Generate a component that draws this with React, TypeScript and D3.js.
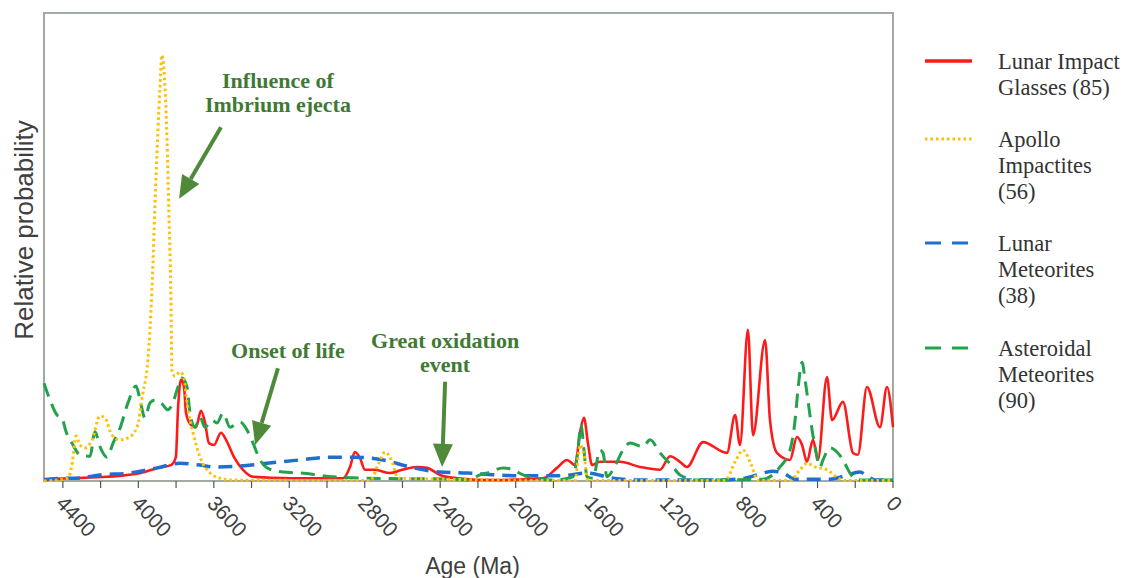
import React from 'react';
import * as d3 from 'd3';

// [age (Ma), relative probability]
const lunarGlasses: [number, number][] = [
  [4500, 0.004], [4346, 0.006], [4166, 0.009], [3987, 0.017], [3897, 0.028], [3827, 0.034],
  [3801, 0.051], [3790, 0.152], [3774, 0.216], [3758, 0.201], [3747, 0.145], [3721, 0.12],
  [3694, 0.115], [3668, 0.15], [3647, 0.126], [3626, 0.081], [3599, 0.077], [3562, 0.103],
  [3535, 0.088], [3493, 0.051], [3445, 0.024], [3392, 0.009], [3196, 0.006], [2915, 0.006],
  [2878, 0.03], [2852, 0.062], [2825, 0.049], [2799, 0.024], [2746, 0.024], [2666, 0.017],
  [2602, 0.024], [2523, 0.03], [2470, 0.028], [2401, 0.013], [2311, 0.006], [2120, 0.002],
  [1855, 0.006], [1781, 0.028], [1728, 0.045], [1685, 0.034], [1659, 0.103], [1638, 0.135],
  [1617, 0.081], [1595, 0.034], [1553, 0.041], [1447, 0.041], [1341, 0.03], [1235, 0.024],
  [1182, 0.053], [1129, 0.041], [1092, 0.03], [1007, 0.083], [880, 0.06], [837, 0.141],
  [811, 0.077], [769, 0.323], [742, 0.098], [678, 0.301], [652, 0.13], [615, 0.06],
  [546, 0.045], [509, 0.094], [482, 0.077], [456, 0.041], [424, 0.088], [398, 0.045],
  [350, 0.222], [323, 0.13], [265, 0.169], [212, 0.06], [186, 0.056], [138, 0.201],
  [69, 0.115], [32, 0.201], [0, 0.115],
];

const apolloImpactites: [number, number][] = [
  [4500, 0], [4373, 0.006], [4352, 0.034], [4330, 0.096], [4309, 0.077], [4283, 0.071],
  [4245, 0.088], [4203, 0.139], [4177, 0.135], [4140, 0.098], [4097, 0.088], [4055, 0.092],
  [4007, 0.115], [3976, 0.188], [3949, 0.259], [3928, 0.408], [3907, 0.643], [3886, 0.835],
  [3875, 0.91], [3864, 0.878], [3848, 0.729], [3838, 0.573], [3827, 0.387], [3822, 0.237],
  [3806, 0.224], [3779, 0.233], [3758, 0.22], [3742, 0.167], [3710, 0.103], [3673, 0.051],
  [3620, 0.017], [3567, 0.006], [3514, 0.002], [2772, 0.001], [2730, 0.034], [2692, 0.062],
  [2655, 0.041], [2624, 0.006], [1685, 0.001], [1659, 0.077], [1638, 0.056], [1617, 0.001],
  [890, 0.001], [837, 0.041], [795, 0.066], [753, 0.036], [716, 0.001], [546, 0.001],
  [493, 0.024], [456, 0.038], [413, 0.03], [350, 0.024], [281, 0.004], [254, 0.001], [0, 0.001],
];

const lunarMeteorites: [number, number][] = [
  [4500, 0.002], [4399, 0.006], [4325, 0.006], [4203, 0.013], [4044, 0.017], [3901, 0.028],
  [3779, 0.038], [3673, 0.034], [3594, 0.03], [3461, 0.032], [3318, 0.038], [3143, 0.045],
  [2984, 0.051], [2852, 0.051], [2703, 0.045], [2560, 0.03], [2401, 0.019], [2258, 0.017],
  [2099, 0.013], [1940, 0.011], [1765, 0.011], [1622, 0.017], [1484, 0.006], [1341, 0.002],
  [1166, 0.002], [917, 0.002], [784, 0.006], [689, 0.017], [636, 0.021], [583, 0.017],
  [519, 0.004], [334, 0.004], [254, 0.011], [175, 0.019], [138, 0.011], [95, 0.002], [0, 0.002],
];

const asteroidalMeteorites: [number, number][] = [
  [4500, 0.209], [4468, 0.173], [4431, 0.141], [4405, 0.135], [4383, 0.105], [4352, 0.081],
  [4309, 0.056], [4256, 0.053], [4230, 0.105], [4203, 0.073], [4166, 0.051], [4134, 0.081],
  [4097, 0.113], [4055, 0.167], [4012, 0.203], [3991, 0.173], [3965, 0.135], [3938, 0.167],
  [3912, 0.173], [3875, 0.165], [3843, 0.152], [3817, 0.167], [3790, 0.201], [3769, 0.22],
  [3742, 0.201], [3726, 0.145], [3700, 0.115], [3673, 0.137], [3647, 0.115], [3609, 0.13],
  [3583, 0.124], [3551, 0.145], [3514, 0.115], [3461, 0.126], [3424, 0.109], [3392, 0.081],
  [3355, 0.045], [3318, 0.028], [3233, 0.019], [3143, 0.017], [2968, 0.009], [2788, 0.006],
  [2348, 0.004], [2258, 0.002], [2189, 0.013], [2136, 0.019], [2067, 0.028], [2014, 0.024],
  [1961, 0.013], [1887, 0.006], [1802, 0.002], [1696, 0.009], [1670, 0.066], [1654, 0.12],
  [1638, 0.066], [1622, 0.009], [1590, 0.006], [1553, 0.066], [1537, 0.06], [1516, 0.009],
  [1484, 0.024], [1431, 0.066], [1394, 0.081], [1325, 0.073], [1288, 0.088], [1235, 0.06],
  [1166, 0.03], [1129, 0.013], [1039, 0.002], [689, 0.004], [599, 0.03], [546, 0.066],
  [519, 0.13], [504, 0.194], [482, 0.254], [466, 0.216], [451, 0.173], [429, 0.109],
  [413, 0.073], [387, 0.03], [371, 0.045], [334, 0.071], [297, 0.062], [265, 0.045],
  [228, 0.017], [191, 0.002], [0, 0.002],
];

const tickAges = d3.range(0, 4401, 200);
const labelAges = d3.range(0, 4401, 400);

const seriesNames = ['Lunar Impact Glasses (85)', 'Apollo Impactites (56)', 'Lunar Meteorites (38)', 'Asteroidal Meteorites (90)'];
const legendLines = [['Lunar Impact', 'Glasses (85)'], ['Apollo', 'Impactites', '(56)'], ['Lunar', 'Meteorites', '(38)'], ['Asteroidal', 'Meteorites', '(90)']];

// annotations: text lines + arrow [from, to] in data units
const annotations = [
  { lines: ['Influence of', 'Imbrium ejecta'], at: [3260, 0.84], from: [3562, 0.756], to: [3784, 0.603] },
  { lines: ['Onset of life'], at: [3207, 0.263], from: [3260, 0.241], to: [3381, 0.077] },
  { lines: ['Great oxidation', 'event'], at: [2374, 0.284], from: [2374, 0.212], to: [2390, 0.03] },
];

const W = 1123, H = 578;
const M = { left: 44, right: 893, top: 13, bottom: 481 };

const styles = [
  { color: '#ff1a1a', width: 2.6, dash: null },
  { color: '#ffc000', width: 3, dash: '2.5 3' },
  { color: '#1f6fd0', width: 3.5, dash: '14 8' },
  { color: '#22a24c', width: 3, dash: '14 8' },
];

const App = () => {
  const x = d3.scaleLinear().domain([4500, 0]).range([M.left, M.right]);
  const y = d3.scaleLinear().domain([0, 1]).range([M.bottom, M.top]);
  const line = d3.line<[number, number]>()
    .x(d => x(d[0]))
    .y(d => y(d[1]))
    .curve(d3.curveMonotoneX);

  const data = [lunarGlasses, apolloImpactites, lunarMeteorites, asteroidalMeteorites];
  // draw order: red, blue, green, yellow
  const order = [0, 2, 3, 1];

  const arrow = (a: any, i: number) => {
    const x1 = x(a.from[0]), y1 = y(a.from[1]);
    const x2 = x(a.to[0]), y2 = y(a.to[1]);
    const ang = Math.atan2(y2 - y1, x2 - x1);
    const hl = 23, hw = 10;
    const bx = x2 - hl * Math.cos(ang), by = y2 - hl * Math.sin(ang);
    const px = -Math.sin(ang) * hw, py = Math.cos(ang) * hw;
    return (
      <g key={'arr' + i}>
        <line x1={x1} y1={y1} x2={bx} y2={by} stroke="#4f8a3a" strokeWidth={4} />
        <polygon points={`${x2},${y2} ${bx + px},${by + py} ${bx - px},${by - py}`} fill="#4f8a3a" />
      </g>
    );
  };

  return (
    <svg width={W} height={H} style={{ position: 'absolute', left: 0, top: 0, background: '#fff' }}>
      <rect x={M.left} y={M.top} width={M.right - M.left} height={M.bottom - M.top} fill="none" stroke="#a3aaa3" strokeWidth={2} />

      {order.map(i => (
        <path key={i} d={line(data[i]) || ''} fill="none" stroke={styles[i].color}
          strokeWidth={styles[i].width} strokeDasharray={styles[i].dash || undefined} strokeLinejoin="round" />
      ))}

      {tickAges.map(t => (
        <line key={'t' + t} x1={x(t)} x2={x(t)} y1={M.bottom} y2={M.bottom + 7} stroke="#555" strokeWidth={1.2} />
      ))}
      {labelAges.map(t => (
        <text key={'l' + t} transform={`translate(${x(t) + 3},${M.bottom + 13}) rotate(47)`}
          dy="0.71em" fontFamily="Liberation Sans, Arial, sans-serif" fontSize={21} fill="#404040">{t}</text>
      ))}
      <text x={(M.left + M.right) / 2 + 4} y={574} textAnchor="middle" fontFamily="Liberation Sans, Arial, sans-serif" fontSize={23} fill="#404040">Age (Ma)</text>
      <text transform={`translate(33,${(M.top + M.bottom) / 2 - 17}) rotate(-90)`} textAnchor="middle"
        fontFamily="Liberation Sans, Arial, sans-serif" fontSize={26} fill="#404040">Relative probability</text>

      {annotations.map((a, i) => (
        <g key={'a' + i}>
          {a.lines.map((s, j) => (
            <text key={j} x={x(a.at[0])} y={y(a.at[1]) + j * 24} textAnchor="middle"
              fontFamily="Liberation Serif, serif" fontWeight="bold" fontSize={22} fill="#3f7a34">{s}</text>
          ))}
          {arrow(a, i)}
        </g>
      ))}

      <g>
        {legendLines.map((lines, i) => {
          const top = [61, 139, 243, 348][i];
          return (
            <g key={'lg' + i}>
              <title>{seriesNames[i]}</title>
              <line x1={925} x2={972} y1={top} y2={top} stroke={styles[i].color}
                strokeWidth={i === 0 ? 3.5 : 3} strokeDasharray={i === 1 ? '2.5 3' : i > 1 ? '16 11' : undefined} />
              {lines.map((s, j) => (
                <text key={j} x={998} y={top + 8 + j * 26} fontFamily="Liberation Serif, serif" fontSize={22.5} fill="#333">{s}</text>
              ))}
            </g>
          );
        })}
      </g>
    </svg>
  );
};

export default App;
